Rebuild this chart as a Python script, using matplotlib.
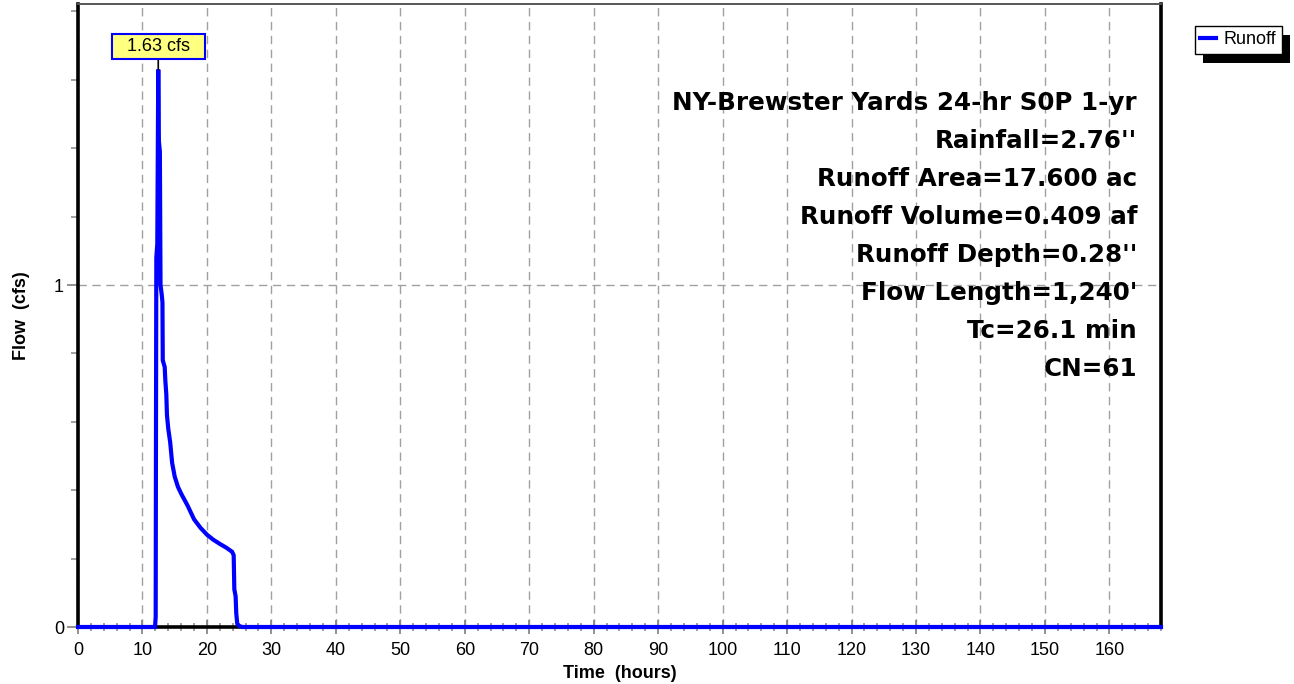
import matplotlib
matplotlib.use("Agg")
import matplotlib.pyplot as plt
from matplotlib.ticker import MultipleLocator
from matplotlib.patches import Rectangle
from matplotlib.path import Path

plt.rcParams['font.family'] = ['Liberation Sans', 'DejaVu Sans']

# ---- data ----
time_hr = [0, 11.95, 12.05, 12.1, 12.15, 12.3, 12.45, 12.55, 12.7, 12.75, 12.8,
           13.0, 13.1, 13.15, 13.45, 13.55, 13.7, 13.8, 14.0, 14.3, 14.6, 15.0,
           15.5, 16.0, 17.0, 18.0, 19.0, 20.0, 21.0, 22.0, 23.0, 23.9, 24.15,
           24.25, 24.45, 24.55, 24.7, 25.0, 25.5, 168]
flow_cfs = [0, 0, 0.03, 0.6, 1.08, 1.12, 1.63, 1.42, 1.39, 1.20, 1.00,
            0.97, 0.95, 0.78, 0.76, 0.72, 0.68, 0.62, 0.58, 0.54, 0.48, 0.44,
            0.41, 0.39, 0.355, 0.315, 0.29, 0.27, 0.255, 0.243, 0.232, 0.22, 0.21,
            0.11, 0.09, 0.04, 0.01, 0.003, 0, 0]
series_label = "Runoff"
peak_label = "1.63 cfs"
info_lines = ["NY-Brewster Yards 24-hr S0P 1-yr", "Rainfall=2.76''",
              "Runoff Area=17.600 ac", "Runoff Volume=0.409 af",
              "Runoff Depth=0.28''", "Flow Length=1,240'", "Tc=26.1 min", "CN=61"]
x_ticks = list(range(0, 161, 10))
y_ticks = [0, 1]

W, H = 1294, 684
fig = plt.figure(figsize=(W / 100, H / 100), dpi=100)
ax = fig.add_axes([78 / W, 1 - 627 / H, (1161 - 78) / W, (627 - 4) / H])

ax.set_xlim(0, 168)
ax.set_ylim(0, (627 - 4) / 342)

line, = ax.plot(time_hr, flow_cfs, color='#0000FF', lw=3, zorder=5,
                clip_on=False, solid_joinstyle='miter', label=series_label)

ax.set_xticks(x_ticks)
ax.set_yticks(y_ticks)
ax.xaxis.set_minor_locator(MultipleLocator(2))
ax.yaxis.set_minor_locator(MultipleLocator(0.2))
ax.grid(True, which='major', color='#A0A0A0', linestyle=(0, (6, 4)), lw=1.0)
ax.tick_params(axis='x', which='major', direction='inout', length=10, width=1.3,
               color='#888888', labelsize=13, pad=6)
ax.tick_params(axis='x', which='minor', direction='inout', length=6, width=1.1,
               color='#888888')
ax.tick_params(axis='y', which='major', direction='out', length=8, width=1.3,
               color='#888888', labelsize=13, pad=2)
ax.tick_params(axis='y', which='minor', direction='out', length=5, width=1.1,
               color='#888888')

for s in ['left', 'bottom', 'right']:
    ax.spines[s].set_linewidth(2.6)
    ax.spines[s].set_color('black')
ax.spines['top'].set_linewidth(1.4)
ax.spines['top'].set_color('#555555')

ax.set_xlabel("Time  (hours)", fontsize=13, fontweight='bold', labelpad=4)
ax.set_ylabel("Flow  (cfs)", fontsize=13, fontweight='bold', labelpad=17)


def wide_box(x0, y0, width, height, mutation_size):
    px = 0.83 * mutation_size
    py = 0.22 * mutation_size
    return Path([(x0 - px, y0 - py), (x0 + width + px, y0 - py),
                 (x0 + width + px, y0 + height + py), (x0 - px, y0 + height + py),
                 (x0 - px, y0 - py)], closed=True)


# peak annotation
ipk = flow_cfs.index(max(flow_cfs))
ax.annotate(peak_label, xy=(time_hr[ipk], flow_cfs[ipk]),
            xytext=(time_hr[ipk], 1.696), ha='center', va='center',
            fontsize=13, color='black',
            bbox=dict(boxstyle=wide_box, fc='#FFFF80', ec='#0000FF', lw=1.5),
            arrowprops=dict(arrowstyle='-', color='black', lw=1.2,
                            shrinkA=0, shrinkB=0), zorder=6)

# info text block
for i, t in enumerate(info_lines):
    fig.text(1137 / W, 1 - (110 + 38 * i) / H, t, ha='right', va='baseline',
             fontsize=17.7, fontweight='bold', color='black',
             family=['DejaVu Sans'])

# legend with hard shadow
leg = fig.legend(handles=[line], loc='upper left',
                 bbox_to_anchor=(1195 / W, 1 - 26 / H),
                 frameon=True, fancybox=False, edgecolor='black', framealpha=1,
                 fontsize=13, handlelength=0.85, handletextpad=0.45,
                 borderpad=0.3, borderaxespad=0)
leg.get_frame().set_linewidth(1.0)
leg.set_zorder(10)
fig.canvas.draw()
bb = leg.get_frame().get_window_extent(fig.canvas.get_renderer())
sh = Rectangle((bb.x0 + 8, bb.y0 - 9), bb.width, bb.height, transform=None,
               fc='black', ec='none', zorder=9)
fig.add_artist(sh)

fig.savefig("out.png", dpi=100)
